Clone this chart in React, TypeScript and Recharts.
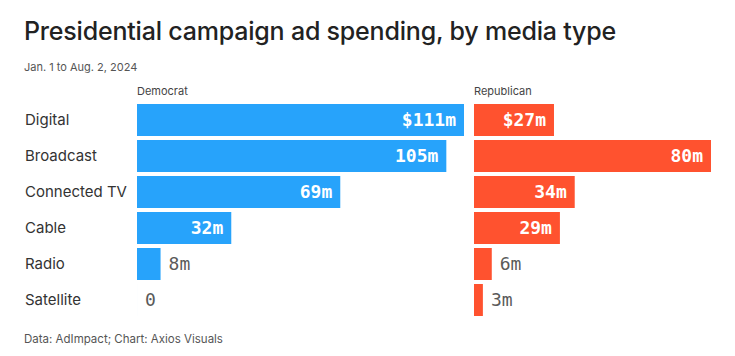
import React from 'react';
import { BarChart, Bar, XAxis, YAxis, LabelList } from 'recharts';

const categories = ['Digital', 'Broadcast', 'Connected TV', 'Cable', 'Radio', 'Satellite'];
const democrat = [111, 105, 69, 32, 8, 0];
const republican = [27, 80, 34, 29, 6, 3];

const data = categories.map((name, i) => ({
  name,
  democrat: democrat[i],
  republican: republican[i],
}));

const BLUE = '#27a3fb';
const RED = '#ff522f';
const MONO = '"DejaVu Sans Mono", "Liberation Mono", monospace';
const SANS = 'Inter, "Noto Sans", sans-serif';

const fmt = (v: number, i: number) => {
  if (v === 0) return '0';
  return `${i === 0 ? '$' : ''}${v}m`;
};

const ValueLabel = (props: any) => {
  const { x, y, width, height, value, index } = props;
  const inside = value >= 15;
  const w = value === 0 ? 0 : width;
  return (
    <text
      x={inside ? x + w - 8 : x + w + 8}
      y={y + height / 2}
      dy={6}
      textAnchor={inside ? 'end' : 'start'}
      fill={inside ? '#ffffff' : '#5a5a5a'}
      fontFamily={MONO}
      fontSize={18}
      fontWeight={inside ? 700 : 400}
    >
      {fmt(value, index)}
    </text>
  );
};

const CategoryTick = (props: any) => {
  const { y, payload } = props;
  return (
    <text x={25} y={y} dy={5} textAnchor="start" fill="#333333" fontFamily={SANS} fontSize={15}>
      {payload.value}
    </text>
  );
};

const header: React.CSSProperties = {
  position: 'absolute',
  fontFamily: SANS,
  fontSize: 11,
  color: '#444',
  lineHeight: 1,
};

export default function App() {
  return (
    <div style={{ position: 'absolute', left: 0, top: 0, width: 735, height: 356, background: '#fff' }}>
      <div
        style={{
          position: 'absolute',
          left: 24,
          top: 19,
          fontFamily: SANS,
          fontSize: 25,
          fontWeight: 500,
          lineHeight: 1,
          color: '#222',
          letterSpacing: -0.2,
          whiteSpace: 'nowrap',
        }}
      >
        Presidential campaign ad spending, by media type
      </div>
      <div style={{ ...header, left: 24, top: 62, color: '#555' }}>Jan. 1 to Aug. 2, 2024</div>
      <div style={{ ...header, left: 137, top: 86 }}>Democrat</div>
      <div style={{ ...header, left: 474, top: 86 }}>Republican</div>

      <div style={{ position: 'absolute', left: 0, top: 0 }}>
        <BarChart
          width={470}
          height={330}
          data={data}
          layout="vertical"
          margin={{ top: 102, right: 6, bottom: 12, left: 0 }}
        >
          <XAxis type="number" domain={[0, 'dataMax']} hide />
          <YAxis
            type="category"
            dataKey="name"
            width={137}
            axisLine={false}
            tickLine={false}
            tick={<CategoryTick />}
          />
          <Bar dataKey="democrat" fill={BLUE} barSize={32} minPointSize={0.01} isAnimationActive={false}>
            <LabelList dataKey="democrat" content={<ValueLabel />} />
          </Bar>
        </BarChart>
      </div>

      <div style={{ position: 'absolute', left: 474, top: 0 }}>
        <BarChart
          width={261}
          height={330}
          data={data}
          layout="vertical"
          margin={{ top: 102, right: 24, bottom: 12, left: 0 }}
        >
          <XAxis type="number" domain={[0, 'dataMax']} hide />
          <YAxis type="category" dataKey="name" hide />
          <Bar dataKey="republican" fill={RED} barSize={32} isAnimationActive={false}>
            <LabelList dataKey="republican" content={<ValueLabel />} />
          </Bar>
        </BarChart>
      </div>

      <div style={{ ...header, left: 24, top: 334, fontSize: 11.5, color: '#555' }}>
        Data: AdImpact; Chart: Axios Visuals
      </div>
    </div>
  );
}
